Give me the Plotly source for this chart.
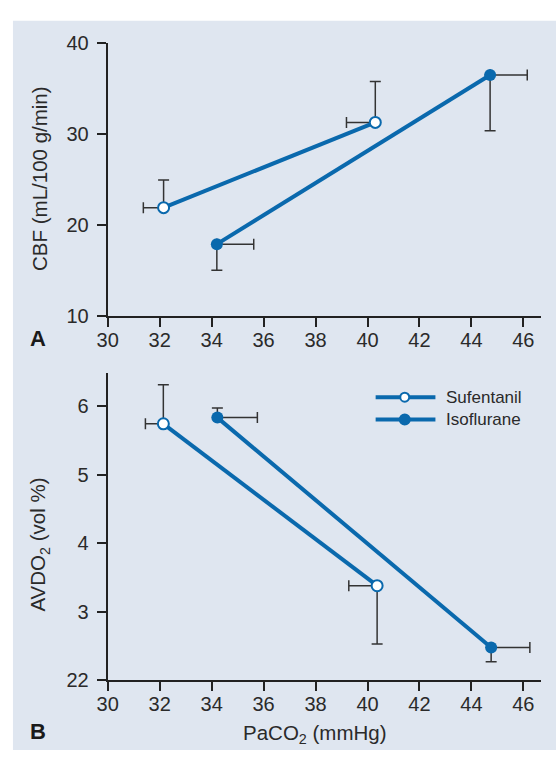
import plotly.graph_objects as go

# ---------------- data ----------------
# Panel A: CBF vs PaCO2
sufA_paco2 = [32.15, 40.30]
sufA_cbf = [21.9, 31.25]
sufA_paco2_err_minus = [0.78, 1.11]
sufA_cbf_err_plus = [3.04, 4.47]

isoA_paco2 = [34.20, 44.72]
isoA_cbf = [17.9, 36.45]
isoA_paco2_err_plus = [1.42, 1.43]
isoA_cbf_err_minus = [2.87, 6.12]

# Panel B: AVDO2 vs PaCO2
sufB_paco2 = [32.14, 40.37]
sufB_avdo2 = [5.74, 3.38]
sufB_paco2_err_minus = [0.69, 1.09]
sufB_avdo2_err_plus = [0.57, 0.0]
sufB_avdo2_err_minus = [0.0, 0.85]

isoB_paco2 = [34.22, 44.76]
isoB_avdo2 = [5.83, 2.48]
isoB_paco2_err_plus = [1.54, 1.49]
isoB_avdo2_err_plus = [0.14, 0.0]
isoB_avdo2_err_minus = [0.0, 0.21]

x_ticks = [30, 32, 34, 36, 38, 40, 42, 44, 46]
yA_ticks = [10, 20, 30, 40]
yB_ticks = [2, 3, 4, 5, 6]
yB_ticktext = ["22", "3", "4", "5", "6"]

series_names = ["Sufentanil", "Isoflurane"]

# ---------------- style ----------------
W, H = 556, 761
BLUE = "#0a69ad"
ERR = "#333333"
TXT = "#2a2a2a"
PANEL = "#dfe6f0"
FONT = "Liberation Sans, Arial, Helvetica, sans-serif"

def px_x(p):
    return p / W

def px_y(p):
    return 1 - p / H

fig = go.Figure()

def err(arr_plus, arr_minus):
    return dict(type="data", symmetric=False, array=arr_plus, arrayminus=arr_minus,
                color=ERR, thickness=1.5, width=5.5)

open_marker = dict(size=11, color="white", line=dict(color=BLUE, width=2))
filled_marker = dict(size=12, color=BLUE, line=dict(color=BLUE, width=0))

# Panel A
fig.add_trace(go.Scatter(
    x=sufA_paco2, y=sufA_cbf, mode="lines+markers", name=series_names[0],
    line=dict(color=BLUE, width=4), marker=open_marker,
    error_x=err([0, 0], sufA_paco2_err_minus),
    error_y=err(sufA_cbf_err_plus, [0, 0]),
    xaxis="x", yaxis="y", showlegend=False))
fig.add_trace(go.Scatter(
    x=isoA_paco2, y=isoA_cbf, mode="lines+markers", name=series_names[1],
    line=dict(color=BLUE, width=4), marker=filled_marker,
    error_x=err(isoA_paco2_err_plus, [0, 0]),
    error_y=err([0, 0], isoA_cbf_err_minus),
    xaxis="x", yaxis="y", showlegend=False))

# Panel B
fig.add_trace(go.Scatter(
    x=sufB_paco2, y=sufB_avdo2, mode="lines+markers", name=series_names[0],
    line=dict(color=BLUE, width=4), marker=open_marker,
    error_x=err([0, 0], sufB_paco2_err_minus),
    error_y=err(sufB_avdo2_err_plus, sufB_avdo2_err_minus),
    xaxis="x2", yaxis="y2", showlegend=False))
fig.add_trace(go.Scatter(
    x=isoB_paco2, y=isoB_avdo2, mode="lines+markers", name=series_names[1],
    line=dict(color=BLUE, width=4), marker=filled_marker,
    error_x=err(isoB_paco2_err_plus, [0, 0]),
    error_y=err(isoB_avdo2_err_plus, isoB_avdo2_err_minus),
    xaxis="x2", yaxis="y2", showlegend=False))

x_dom = [px_x(98.7), px_x(541)]
x_rng = [30, 30 + (541 - 98.7) / 26.5]

axis_common = dict(
    showline=True, linecolor="#222222", linewidth=2, mirror=False,
    ticks="outside", tickcolor="#222222", tickwidth=1.5, ticklen=9,
    showgrid=False, zeroline=False,
    tickfont=dict(family=FONT, size=20, color=TXT),
)

# ----- legend (drawn in the panel, top right of B) -----
leg_rows = [397.7, 420.7]
leg_line = [372, 433]
leg_mark_x = 401.7
leg_text_x = 441.7

shapes = [dict(type="rect", xref="paper", yref="paper",
               x0=px_x(2), x1=1, y0=0, y1=px_y(10),
               fillcolor=PANEL, line=dict(width=0), layer="below")]
for ry in leg_rows:
    shapes.append(dict(type="line", xref="paper", yref="paper",
                       x0=px_x(leg_line[0]), x1=px_x(leg_line[1]),
                       y0=px_y(ry), y1=px_y(ry),
                       line=dict(color=BLUE, width=4), layer="above"))
# open circle (Sufentanil)
shapes.append(dict(type="circle", xref="paper", yref="paper",
                   xsizemode="pixel", ysizemode="pixel",
                   xanchor=px_x(leg_mark_x), yanchor=px_y(leg_rows[0]),
                   x0=-4.5, x1=4.5, y0=-4.5, y1=4.5,
                   fillcolor="white", line=dict(color=BLUE, width=2), layer="above"))
# filled circle (Isoflurane)
shapes.append(dict(type="circle", xref="paper", yref="paper",
                   xsizemode="pixel", ysizemode="pixel",
                   xanchor=px_x(leg_mark_x), yanchor=px_y(leg_rows[1]),
                   x0=-6, x1=6, y0=-6, y1=6,
                   fillcolor=BLUE, line=dict(color=BLUE, width=0), layer="above"))

annotations = [
    dict(text="CBF (mL/100 g/min)", xref="paper", yref="paper",
         x=px_x(28.5), y=px_y(172), textangle=-90, showarrow=False,
         xanchor="center", yanchor="middle",
         font=dict(family=FONT, size=20.5, color=TXT)),
    dict(text="AVDO<sub>2</sub> (vol %)", xref="paper", yref="paper",
         x=px_x(29), y=px_y(549), textangle=-90, showarrow=False,
         xanchor="center", yanchor="middle",
         font=dict(family=FONT, size=20.5, color=TXT)),
    dict(text="PaCO<sub>2</sub> (mmHg)", xref="paper", yref="paper",
         x=px_x(310.6), y=px_y(745), showarrow=False,
         xanchor="center", yanchor="middle",
         font=dict(family=FONT, size=20.5, color=TXT)),
    dict(text="<b>A</b>", xref="paper", yref="paper",
         x=px_x(27.8), y=px_y(337.5), showarrow=False,
         xanchor="center", yanchor="middle",
         font=dict(family=FONT, size=22, color="#1a1a1a")),
    dict(text="<b>B</b>", xref="paper", yref="paper",
         x=px_x(27.3), y=px_y(742.3), showarrow=False,
         xanchor="center", yanchor="middle",
         font=dict(family=FONT, size=22, color="#1a1a1a")),
]
for name, ry in zip(series_names, leg_rows):
    annotations.append(dict(text=name, xref="paper", yref="paper",
                            x=px_x(leg_text_x), y=px_y(ry), showarrow=False,
                            xanchor="left", yanchor="middle",
                            font=dict(family=FONT, size=17, color=TXT)))

fig.update_layout(
    width=W, height=H,
    margin=dict(l=0, r=0, t=0, b=0),
    paper_bgcolor="white",
    plot_bgcolor="white",
    font=dict(family=FONT, color=TXT),
    showlegend=False,
    xaxis=dict(domain=x_dom, range=x_rng, tickvals=x_ticks, anchor="y",
               ticklabelstandoff=-4, **axis_common),
    yaxis=dict(domain=[px_y(314.3), px_y(32.5)], range=[10, 40], tickvals=yA_ticks,
               anchor="x", ticklabelstandoff=4, **axis_common),
    xaxis2=dict(domain=x_dom, range=x_rng, tickvals=x_ticks, anchor="y2",
                ticklabelstandoff=-4, **axis_common),
    yaxis2=dict(domain=[px_y(689.3), px_y(372.7)],
                range=[2, 2 + (689.3 - 372.7) / 70.65],
                tickvals=yB_ticks, ticktext=yB_ticktext, anchor="x2",
                ticklabelstandoff=4, **axis_common),
    shapes=shapes,
    annotations=annotations,
)

fig.write_html("out.html")
